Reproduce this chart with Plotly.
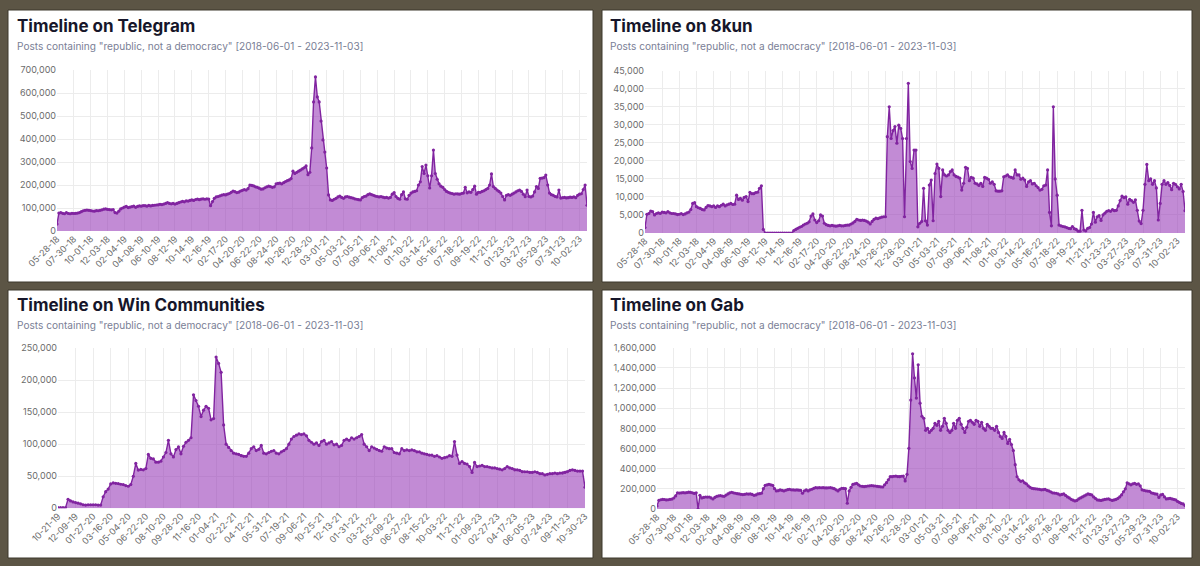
import pandas as pd
import plotly.graph_objects as go

# ---------------- data (weekly post counts, in thousands) ----------------
telegram_start = "2018-05-28"
kun_start = "2018-05-28"
win_start = "2019-10-21"
gab_start = "2018-05-28"

telegram_k = [
    30, 78, 80, 77, 75, 80, 76, 75, 77,
    76, 77, 78, 80, 84, 88, 90, 91, 90,
    89, 87, 86, 89, 88, 90, 92, 95, 96,
    94, 93, 92, 93, 80, 78, 86, 96, 100,
    104, 107, 102, 104, 106, 108, 103, 107, 109,
    108, 110, 110, 108, 111, 109, 111, 112, 113,
    114, 116, 115, 117, 120, 123, 120, 118, 120,
    117, 120, 123, 126, 129, 127, 131, 130, 133,
    135, 133, 137, 139, 136, 139, 140, 138, 140,
    139, 110, 128, 142, 148, 150, 153, 156, 158,
    157, 160, 163, 168, 174, 171, 167, 169, 174,
    177, 180, 178, 184, 200, 198, 196, 192, 190,
    186, 182, 183, 188, 192, 195, 193, 190, 192,
    205, 207, 208, 205, 210, 215, 219, 222, 228,
    260, 250, 255, 260, 265, 270, 275, 283, 245,
    255, 361, 561, 670, 583, 561, 478, 396, 343,
    274, 157, 135, 133, 138, 142, 148, 152, 146,
    142, 148, 150, 147, 145, 143, 140, 138, 136,
    135, 145, 150, 152, 158, 161, 158, 155, 152,
    150, 148, 150, 147, 145, 146, 143, 146, 160,
    167, 150, 142, 138, 158, 170, 140, 138, 155,
    165, 170, 172, 175, 200, 214, 280, 250, 287,
    240, 187, 240, 352, 250, 225, 205, 195, 190,
    180, 172, 168, 165, 163, 160, 162, 161, 160,
    163, 165, 190, 166, 170, 168, 180, 195, 160,
    168, 168, 172, 175, 180, 185, 200, 248, 193,
    185, 178, 172, 165, 150, 135, 155, 158, 155,
    160, 165, 170, 175, 178, 172, 160, 149, 178,
    150, 148, 152, 170, 193, 185, 229, 230, 232,
    243, 200, 165, 158, 155, 150, 148, 178, 143,
    145, 146, 144, 145, 147, 146, 148, 145, 155,
    160, 162, 180, 200, 112,
]

kun_k = [
    1.5, 5.2, 5.4, 6.1, 5.9, 5.0, 5.4, 5.6, 5.4,
    5.8, 5.7, 5.6, 5.9, 5.6, 5.4, 5.4, 5.3, 5.1,
    5.2, 5.4, 5.1, 5.3, 5.6, 5.8, 6.5, 8.2, 8.4,
    7.3, 7.0, 6.8, 6.5, 6.4, 7.1, 7.6, 7.5, 7.3,
    7.5, 7.1, 7.5, 7.3, 7.7, 8.0, 7.5, 7.8, 8.0,
    8.2, 7.9, 8.0, 10.5, 9.3, 9.6, 9.1, 9.9, 10.1,
    8.7, 11.3, 10.9, 10.9, 11.2, 11.3, 12.4, 13.1, 1.0,
    0, 0, 0, 0, 0, 0, 0, 0, 0,
    0, 0, 0, 0, 0, 0, 0.7, 1.0, 1.3,
    1.6, 1.8, 2.2, 2.5, 2.7, 3.1, 4.7, 5.3, 3.6,
    2.9, 3.4, 5.0, 4.7, 2.7, 2.3, 2.1, 2.0, 2.1,
    2.0, 1.9, 2.0, 2.1, 2.0, 2.0, 2.1, 2.2, 2.2,
    2.5, 2.8, 3.2, 3.8, 3.6, 3.5, 3.6, 3.5, 3.3,
    3.0, 2.5, 3.2, 3.8, 4.1, 4.0, 4.2, 4.4, 4.5,
    4.5, 26.7, 35.0, 26.2, 28.4, 29.5, 24.9, 29.9, 29.0,
    26.2, 4.5, 26.2, 41.5, 19.8, 17.9, 23.0, 23.0, 1.7,
    2.7, 3.2, 12.4, 3.4, 2.2, 13.3, 14.7, 3.4, 16.5,
    19.1, 17.9, 10.1, 17.5, 16.1, 15.8, 16.1, 17.0, 17.5,
    16.1, 15.7, 15.5, 15.2, 11.9, 13.8, 18.2, 17.9, 14.5,
    15.4, 15.2, 13.8, 13.6, 13.2, 13.8, 12.9, 15.4, 15.2,
    14.9, 13.8, 14.2, 13.5, 11.7, 11.6, 11.6, 11.7, 15.6,
    15.8, 16.1, 15.6, 15.4, 15.2, 17.5, 16.1, 16.1, 14.9,
    15.2, 14.7, 12.9, 14.2, 14.5, 13.6, 13.8, 13.1, 12.6,
    11.9, 12.1, 13.1, 13.3, 17.5, 5.7, 2.0, 35.0, 15.0,
    10.5, 2.2, 2.0, 1.8, 1.7, 1.5, 1.3, 1.2, 1.8,
    1.2, 1.0, 0.5, 0.5, 6.3, 0.8, 0.6, 1.3, 1.5,
    2.5, 5.7, 3.0, 4.5, 4.8, 3.5, 5.0, 5.5, 6.0,
    6.2, 6.0, 6.5, 6.2, 6.3, 7.5, 9.0, 10.2, 9.8,
    10.0, 8.0, 9.3, 9.0, 8.5, 9.2, 6.3, 3.3, 2.6,
    6.3, 13.5, 19.0, 14.5, 15.0, 13.5, 14.5, 12.5, 3.6,
    8.2, 13.5, 14.5, 13.5, 14.0, 13.2, 12.0, 13.8, 13.5,
    12.8, 12.2, 13.5, 11.5, 6.2,
]

win_k = [
    1, 1, 1, 1, 14, 11.5, 10,
    9, 8, 7, 5.5, 5, 5.5, 5.5,
    5.5, 5.5, 5, 5, 18, 26, 30,
    38, 39.6, 39, 38.6, 37.5, 37, 35.4,
    34.4, 37, 50, 70, 59.6, 60.6, 60,
    62, 84, 78, 77, 72, 72, 73.5,
    80, 87, 106, 85, 80, 91.6, 95.7,
    85, 96.7, 103, 106, 110, 177, 168,
    159, 143, 153, 159, 156, 138, 140,
    236, 226, 212, 130, 100, 95, 90,
    86, 85, 84, 82, 81, 81, 86,
    93, 96, 90, 92, 98, 86, 85,
    87, 89, 90, 86, 85, 88, 90,
    93, 100, 108, 112, 114, 116, 115,
    116, 113, 106, 103, 100, 102, 98,
    104, 106, 100, 102, 104, 99, 100,
    96, 98, 106, 108, 106, 110, 108,
    110, 112, 115, 100, 96, 90, 96,
    94, 92, 90, 89, 96, 94, 93,
    93, 87, 86, 85, 93, 90, 91,
    90, 91, 90, 88, 88, 86, 85,
    84, 83, 83, 81, 82, 80, 78,
    79, 80, 82, 81, 104, 83, 70,
    73, 70, 69, 65, 56, 71.5, 65,
    66, 67, 65, 65, 64, 63, 63,
    62, 61, 60, 62, 65, 63, 62,
    60, 60, 59, 57, 57, 57, 56,
    56, 57, 56, 54, 54, 52, 53,
    54, 54, 55, 54, 55, 55, 56,
    57, 59, 60, 59, 58, 58, 58,
    33,
]

gab_k = [
    30, 86, 92, 96, 94, 90, 92, 96, 98,
    109, 130, 160, 158, 160, 162, 160, 163, 167,
    165, 160, 154, 160, 0, 136, 110, 115, 119,
    118, 119, 110, 99, 115, 126, 130, 133, 128,
    126, 138, 150, 160, 166, 160, 156, 152, 150,
    146, 143, 146, 150, 148, 150, 145, 136, 140,
    150, 152, 156, 202, 235, 240, 245, 240, 235,
    202, 179, 182, 189, 185, 179, 186, 192, 196,
    190, 189, 188, 189, 187, 186, 156, 180, 189,
    179, 190, 196, 205, 212, 210, 212, 211, 212,
    210, 209, 211, 212, 208, 202, 190, 179, 195,
    206, 204, 202, 57, 179, 215, 245, 250, 255,
    240, 228, 225, 222, 225, 228, 230, 232, 230,
    228, 225, 222, 220, 218, 240, 261, 290, 321,
    321, 325, 327, 322, 321, 325, 327, 278, 344,
    602, 1080, 1540, 1300, 1100, 1430, 1050, 920, 900,
    780, 800, 760, 780, 800, 850, 830, 870, 780,
    820, 900, 850, 780, 760, 780, 850, 800, 880,
    900, 840, 800, 760, 810, 870, 880, 860, 840,
    880, 870, 820, 860, 800, 780, 840, 820, 800,
    800, 780, 820, 760, 720, 700, 760, 720, 650,
    690, 640, 580, 440, 320, 290, 275, 280, 260,
    250, 230, 215, 205, 202, 200, 198, 195, 190,
    192, 195, 185, 179, 170, 160, 158, 156, 150,
    140, 145, 150, 135, 120, 110, 96, 88, 80,
    85, 100, 110, 120, 130, 140, 150, 145, 140,
    120, 105, 90, 88, 85, 90, 95, 98, 100,
    92, 85, 90, 95, 105, 120, 140, 170, 200,
    260, 250, 240, 250, 255, 245, 250, 230, 190,
    185, 180, 178, 175, 160, 155, 150, 148, 115,
    140, 145, 120, 100, 102, 105, 100, 95, 90,
    75, 65, 55, 50, 35,
]

titles = ["Timeline on Telegram", "Timeline on 8kun",
          "Timeline on Win Communities", "Timeline on Gab"]
subtitle = 'Posts containing "republic, not a democracy" [2018-06-01 - 2023-11-03]'

# ---------------- layout / style ----------------
W, H = 1200, 566
BG = "#5c5545"
LINE = "#8124a0"
FILL = "rgba(150, 55, 182, 0.58)"
FONT = "Inter"

panels = [
    dict(vals=telegram_k, start=telegram_start, every=9, ymax=700000, dtick=100000,
         px=(57, 587), py=(70, 231), card=(8, 10, 593, 282), tpos=(15, 26)),
    dict(vals=kun_k, start=kun_start, every=9, ymax=45000, dtick=5000,
         px=(645, 1185), py=(70.7, 233), card=(602, 10, 1192, 282), tpos=(608, 26)),
    dict(vals=win_k, start=win_start, every=7, ymax=250000, dtick=50000,
         px=(58, 585), py=(348, 508.3), card=(8, 290, 593, 558), tpos=(15, 305)),
    dict(vals=gab_k, start=gab_start, every=9, ymax=1600000, dtick=200000,
         px=(657, 1185), py=(347.7, 509), card=(602, 290, 1192, 558), tpos=(608, 305)),
]

fig = go.Figure()
shapes, annotations = [], []
layout_axes = {}

for i, p in enumerate(panels, start=1):
    dates = pd.date_range(p["start"], periods=len(p["vals"]), freq="7D")
    yvals = [v * 1000 for v in p["vals"]]
    xa = "x" if i == 1 else f"x{i}"
    ya = "y" if i == 1 else f"y{i}"
    fig.add_trace(go.Scatter(
        x=dates, y=yvals, xaxis=xa, yaxis=ya, mode="lines+markers",
        line=dict(color=LINE, width=1.4), marker=dict(color=LINE, size=3.2),
        fill="tozeroy", fillcolor=FILL, showlegend=False,
        hovertemplate="%{x|%m-%d-%y}: %{y:,}<extra></extra>"))

    x0, x1 = p["px"]
    yt, yb = p["py"]
    tickvals = list(dates[::p["every"]])
    layout_axes["xaxis" if i == 1 else f"xaxis{i}"] = dict(
        domain=[x0 / W, x1 / W], anchor=ya, type="date",
        range=[dates[0], dates[-1]], tickmode="array", tickvals=tickvals,
        tickformat="%m-%d-%y", tickangle=-45,
        tickfont=dict(family=FONT, size=9, color="#6b6b6b"),
        showgrid=True, gridcolor="#ececec", gridwidth=1,
        zeroline=False, showline=False, ticks="", automargin=False)
    layout_axes["yaxis" if i == 1 else f"yaxis{i}"] = dict(
        domain=[1 - yb / H, 1 - yt / H], anchor=xa,
        range=[0, p["ymax"]], dtick=p["dtick"], tick0=0, tickformat=",",
        tickfont=dict(family=FONT, size=9, color="#6b6b6b"),
        showgrid=True, gridcolor="#ececec", gridwidth=1,
        zeroline=False, showline=False, ticks="", automargin=False)

    cx0, cy0, cx1, cy1 = p["card"]
    shapes.append(dict(type="rect", xref="paper", yref="paper", layer="below",
                       x0=cx0 / W, x1=cx1 / W, y0=1 - cy1 / H, y1=1 - cy0 / H,
                       fillcolor="white", line=dict(color="#3d382c", width=1)))
    tx, ty = p["tpos"]
    annotations.append(dict(text=f"<b>{titles[i-1]}</b>", xref="paper", yref="paper",
                            x=tx / W, y=1 - ty / H, xanchor="left", yanchor="middle",
                            showarrow=False,
                            font=dict(family=FONT, size=17, color="#16162a")))
    annotations.append(dict(text=subtitle, xref="paper", yref="paper",
                            x=tx / W, y=1 - (ty + 20) / H, xanchor="left", yanchor="middle",
                            showarrow=False,
                            font=dict(family=FONT, size=10.1, color="#7a8096")))

fig.update_layout(
    width=W, height=H, margin=dict(l=0, r=0, t=0, b=0),
    paper_bgcolor=BG, plot_bgcolor="rgba(0,0,0,0)",
    shapes=shapes, annotations=annotations, showlegend=False,
    font=dict(family=FONT), **layout_axes)

fig.write_html("out.html",
               config={"displayModeBar": False},
               post_script="document.body.style.margin='0px';"
                           "document.body.style.overflow='hidden';")
